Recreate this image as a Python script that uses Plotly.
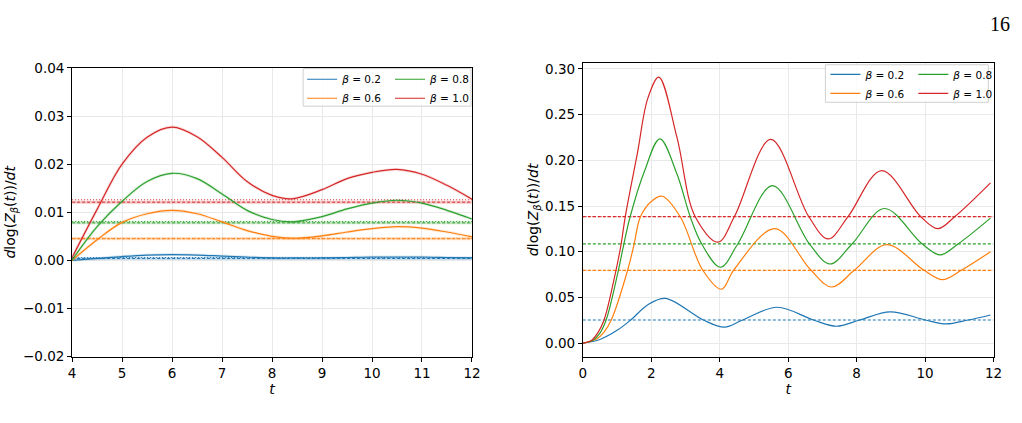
import plotly.graph_objects as go

# ---------------- data ----------------
betas = ["0.2", "0.6", "0.8", "1.0"]
colors = ["#1f77b4", "#ff7f0e", "#2ca02c", "#d62728"]

# Left panel (t from 4 to 12)
left_t_b02 = [4.0, 4.5, 5.0, 5.5, 6.0, 6.5, 7.0, 7.5, 8.0, 8.5, 9.0, 9.5, 10.0, 10.5, 11.0, 11.5, 12.0]
left_v_b02 = [0.0, 0.0004, 0.0008, 0.0011, 0.0012, 0.0011, 0.0009, 0.0007, 0.0005, 0.0005, 0.0005, 0.0006, 0.0007, 0.0007, 0.0007, 0.0006, 0.0005]
left_t_b06 = [4.0, 4.5, 5.0, 5.5, 6.0, 6.5, 7.0, 7.5, 8.0, 8.45, 9.0, 9.5, 10.0, 10.5, 11.0, 11.5, 12.0]
left_v_b06 = [0.0, 0.0043, 0.0079, 0.0097, 0.0104, 0.0097, 0.0080, 0.0062, 0.0050, 0.0046, 0.0051, 0.0059, 0.0066, 0.0070, 0.0067, 0.0059, 0.0049]
left_t_b08 = [4.0, 4.5, 5.0, 5.5, 6.0, 6.5, 7.0, 7.5, 8.0, 8.4, 9.0, 9.5, 10.0, 10.5, 11.0, 11.5, 12.0]
left_v_b08 = [0.0001, 0.0070, 0.0123, 0.0164, 0.0181, 0.0170, 0.0138, 0.0104, 0.0085, 0.0080, 0.0091, 0.0107, 0.0119, 0.0125, 0.0119, 0.0104, 0.0086]
left_t_b10 = [4.0, 4.5, 5.0, 5.5, 6.0, 6.5, 7.0, 7.5, 8.0, 8.4, 9.0, 9.5, 10.0, 10.5, 11.0, 11.5, 12.0]
left_v_b10 = [0.0006, 0.0106, 0.0200, 0.0256, 0.0277, 0.0257, 0.0214, 0.0164, 0.0135, 0.0128, 0.0147, 0.0170, 0.0183, 0.0189, 0.0179, 0.0156, 0.0127]
left_dashed_levels = [0.0004, 0.0045, 0.0078, 0.0121]
left_dotted_levels = [0.0006, 0.0046, 0.0081, 0.0126]
left_t_span = [4, 12]

# Right panel (t from 0 to 12)
right_t_b02 = [0, 0.5, 1.0, 1.4, 1.9, 2.41, 3.52, 4.14, 4.67, 5.68, 6.74, 7.41, 8.09, 8.98, 10.01, 10.61, 11.26, 11.91]
right_v_b02 = [0, 0.004, 0.014, 0.0253, 0.042, 0.049, 0.0253, 0.0175, 0.0253, 0.0393, 0.0253, 0.0185, 0.0253, 0.0343, 0.0253, 0.021, 0.0253, 0.0308]
right_t_b06 = [0, 0.4, 0.62, 0.83, 1.31, 1.5, 1.68, 2.0, 2.32, 2.85, 3.5, 4.05, 4.41, 5.61, 6.66, 7.27, 7.94, 8.88, 9.96, 10.51, 11.07, 11.91]
right_v_b06 = [0, 0.0045, 0.012, 0.0253, 0.08, 0.1087, 0.138, 0.155, 0.1607, 0.138, 0.08, 0.059, 0.08, 0.1253, 0.08, 0.0614, 0.08, 0.1077, 0.08, 0.0695, 0.08, 0.1]
right_t_b08 = [0, 0.3, 0.5, 0.68, 1.04, 1.2, 1.38, 1.8, 2.25, 2.75, 3.14, 3.47, 4.02, 4.53, 5.54, 6.62, 7.22, 7.87, 8.81, 9.91, 10.44, 10.97, 11.91]
right_v_b08 = [0, 0.0035, 0.011, 0.0253, 0.08, 0.1087, 0.138, 0.188, 0.2235, 0.185, 0.138, 0.1087, 0.083, 0.1087, 0.1723, 0.1087, 0.0866, 0.1087, 0.1473, 0.1087, 0.0965, 0.1087, 0.1368]
right_t_b10 = [0, 0.25, 0.45, 0.62, 0.97, 1.12, 1.24, 1.6, 1.9, 2.22, 2.75, 3.28, 3.95, 4.43, 5.49, 6.6, 7.17, 7.75, 8.73, 9.87, 10.37, 10.87, 11.91]
right_v_b10 = [0, 0.003, 0.012, 0.0253, 0.08, 0.1087, 0.1385, 0.209, 0.268, 0.291, 0.225, 0.1385, 0.1105, 0.1385, 0.2228, 0.1385, 0.114, 0.1385, 0.1887, 0.1385, 0.1252, 0.1385, 0.1754]
right_dashed_levels = [0.0253, 0.0795, 0.1085, 0.1385]
right_t_span = [0, 12]

left_ticks_x = [4, 5, 6, 7, 8, 9, 10, 11, 12]
left_ticks_y = [-0.02, -0.01, 0.0, 0.01, 0.02, 0.03, 0.04]
right_ticks_x = [0, 2, 4, 6, 8, 10, 12]
right_ticks_y = [0.0, 0.05, 0.10, 0.15, 0.20, 0.25, 0.30]

left_series = [(left_t_b02, left_v_b02), (left_t_b06, left_v_b06), (left_t_b08, left_v_b08), (left_t_b10, left_v_b10)]
right_series = [(right_t_b02, right_v_b02), (right_t_b06, right_v_b06), (right_t_b08, right_v_b08), (right_t_b10, right_v_b10)]

# ---------------- figure ----------------
W, H = 1022, 423
fig = go.Figure()

def px_x(p):
    return p / W

def px_y(p):
    return 1 - p / H

def rgba(hexc, a):
    h = hexc.lstrip("#")
    return "rgba(%d,%d,%d,%.2f)" % (int(h[0:2], 16), int(h[2:4], 16), int(h[4:6], 16), a)

legend_names = [("legend", "legend2"), ("legend3", "legend4")]

# left panel
for i, (b, c) in enumerate(zip(betas, colors)):
    fig.add_trace(go.Scatter(x=left_t_span, y=[left_dashed_levels[i]] * 2, mode="lines",
                             line=dict(color=rgba(c, 0.25), width=3), showlegend=False,
                             hoverinfo="skip", xaxis="x", yaxis="y"))
    fig.add_trace(go.Scatter(x=left_t_span, y=[left_dashed_levels[i]] * 2, mode="lines",
                             line=dict(color=c, width=1, dash="3px,2px"), showlegend=False,
                             hoverinfo="skip", xaxis="x", yaxis="y"))
    fig.add_trace(go.Scatter(x=left_t_span, y=[left_dotted_levels[i]] * 2, mode="lines",
                             line=dict(color=c, width=1, dash="1px,2px"), showlegend=False,
                             hoverinfo="skip", xaxis="x", yaxis="y"))
for i, (b, c) in enumerate(zip(betas, colors)):
    t, v = left_series[i]
    fig.add_trace(go.Scatter(x=t, y=v, mode="lines", line=dict(color=rgba(c, 0.15), width=3, shape="spline"),
                             showlegend=False, hoverinfo="skip", xaxis="x", yaxis="y"))
    fig.add_trace(go.Scatter(x=t, y=v, mode="lines", line=dict(color=c, width=1.2, shape="spline"),
                             name="<i>β</i> = " + b, legend=legend_names[0][0 if i < 2 else 1],
                             xaxis="x", yaxis="y"))

# right panel
for i, (b, c) in enumerate(zip(betas, colors)):
    fig.add_trace(go.Scatter(x=right_t_span, y=[right_dashed_levels[i]] * 2, mode="lines",
                             line=dict(color=c, width=1.2, dash="3px,2px"), showlegend=False,
                             hoverinfo="skip", xaxis="x2", yaxis="y2"))
    if i in (1, 3):
        fig.add_trace(go.Scatter(x=right_t_span, y=[right_dashed_levels[i]] * 2, mode="lines",
                                 line=dict(color=rgba(c, 0.6), width=1.2, dash="1px,2px"), showlegend=False,
                                 hoverinfo="skip", xaxis="x2", yaxis="y2"))
for i, (b, c) in enumerate(zip(betas, colors)):
    t, v = right_series[i]
    fig.add_trace(go.Scatter(x=t, y=v, mode="lines", line=dict(color=c, width=1.2, shape="spline"),
                             name="<i>β</i> = " + b, legend=legend_names[1][0 if i < 2 else 1],
                             xaxis="x2", yaxis="y2"))

axis_common = dict(showline=True, linecolor="black", linewidth=1, mirror=True, ticks="outside",
                   ticklen=4, tickwidth=1, tickcolor="black", showgrid=True, gridcolor="#e9e9e9",
                   zeroline=False, tickfont=dict(family="DejaVu Sans", size=13.5, color="black"))
ytitle = "<i>d</i>log(<i>Z</i><sub><i>β</i></sub>(<i>t</i>))/<i>dt</i>"
title_font = dict(family="DejaVu Sans", size=14, color="black")

fig.update_layout(
    width=W, height=H, margin=dict(l=0, r=0, t=0, b=0),
    paper_bgcolor="white", plot_bgcolor="white",
    xaxis=dict(domain=[px_x(69), px_x(474)], range=[4, 12], tickvals=left_ticks_x, anchor="y",
               title=dict(text="<i>t</i>", font=title_font, standoff=2), **axis_common),
    yaxis=dict(domain=[px_y(362.3), px_y(62.3)], range=[-0.02, 0.04], tickvals=left_ticks_y,
               tickformat=".2f", anchor="x", title=dict(text=ytitle, font=title_font, standoff=4), **axis_common),
    xaxis2=dict(domain=[px_x(586.3), px_x(1002.3)], range=[0, 12], tickvals=right_ticks_x, anchor="y2",
                title=dict(text="<i>t</i>", font=title_font, standoff=2), **axis_common),
    yaxis2=dict(domain=[px_y(362.3), px_y(57.3)], range=[-0.0147, 0.3063], tickvals=right_ticks_y,
                tickformat=".2f", anchor="x2", title=dict(text=ytitle, font=title_font, standoff=3), **axis_common),
    showlegend=True,
)

leg_common = dict(bgcolor="rgba(0,0,0,0)", borderwidth=0, orientation="v", yanchor="top", xanchor="left",
                  font=dict(family="DejaVu Sans", size=10.5, color="black"), tracegroupgap=0, itemwidth=30)
fig.update_layout(
    legend=dict(x=px_x(302), y=px_y(59), **leg_common),
    legend2=dict(x=px_x(391), y=px_y(59), **leg_common),
    legend3=dict(x=px_x(832), y=px_y(54), **leg_common),
    legend4=dict(x=px_x(921), y=px_y(54), **leg_common),
)

# legend frames
for (x0, y0, x1, y1) in [(303, 63, 473, 102), (832, 59, 997, 98)]:
    fig.add_shape(type="rect", xref="paper", yref="paper", x0=px_x(x0), x1=px_x(x1), y0=px_y(y1), y1=px_y(y0),
                  line=dict(color="#d0d0d0", width=1), fillcolor="rgba(255,255,255,0.85)", layer="above")

fig.add_annotation(text="16", xref="paper", yref="paper", x=px_x(1021), y=px_y(3), xanchor="right", yanchor="top",
                   showarrow=False, font=dict(family="Liberation Serif", size=20, color="black"))

fig.write_html("out.html")
